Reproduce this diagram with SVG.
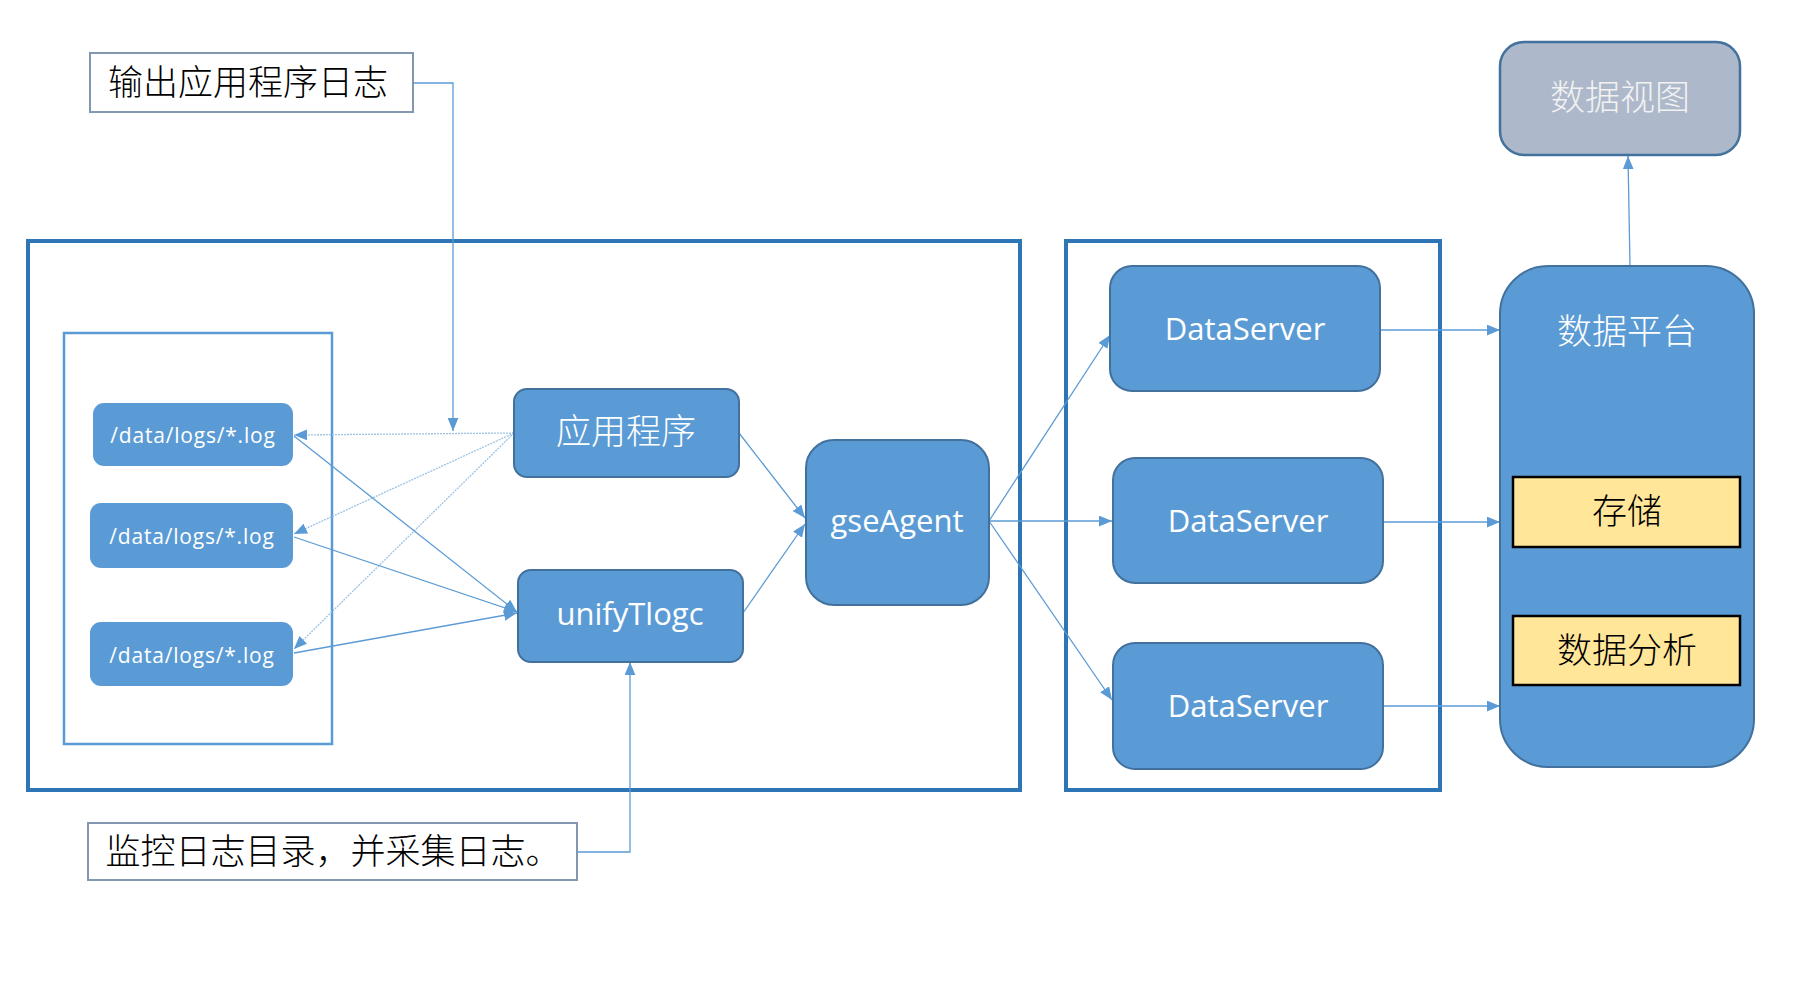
<svg xmlns="http://www.w3.org/2000/svg" width="1813" height="984" viewBox="0 0 1813 984">
<style>
.frame{fill:none;stroke:#2E75B6;stroke-width:4}
.inner{fill:none;stroke:#5B9BD5;stroke-width:2.5}
.node{fill:#5B9BD5;stroke:#41719C;stroke-width:2}
.log{fill:#5B9BD5}
.yellow{fill:#FFE699;stroke:#000;stroke-width:2.5}
.view{fill:#ADB9CA;stroke:#41719C;stroke-width:2.5}
.label{fill:#fff;stroke:#8497B0;stroke-width:2}
.en{font-family:"Open Sans","Liberation Sans",sans-serif;fill:#fff;text-anchor:middle}
.cn{font-family:"Noto Sans CJK SC","Noto Sans",sans-serif;font-size:35px;font-weight:300;text-anchor:middle}
.w{fill:#fff}
.k{fill:#000}
.c{fill:none;stroke:#5B9BD5;stroke-width:1.3}
.d{fill:none;stroke:#9DC3E6;stroke-width:1.3;stroke-dasharray:2 1}
</style>
<defs>
<marker id="ah" viewBox="0 0 12 10" refX="12" refY="5" markerWidth="13" markerHeight="11" markerUnits="userSpaceOnUse" orient="auto">
<path d="M0,0 L12,5 L0,10 z" fill="#5B9BD5"/>
</marker>
</defs>
<rect width="1813" height="984" fill="#fff"/>

<g id="frames">
<rect class="frame" x="28" y="241" width="992" height="549"/>
<rect class="frame" x="1066" y="241" width="374" height="549"/>
<rect class="inner" x="64" y="333" width="268" height="411"/>
</g>

<g id="connectors">
<polyline class="c" points="413,83 453,83 453,431" marker-end="url(#ah)"/>
<line class="d" x1="514" y1="433" x2="294" y2="435" marker-end="url(#ah)"/>
<line class="d" x1="514" y1="433" x2="294" y2="534" marker-end="url(#ah)"/>
<line class="d" x1="514" y1="433" x2="294" y2="649" marker-end="url(#ah)"/>
<line class="c" x1="294" y1="436" x2="517" y2="612" marker-end="url(#ah)"/>
<line class="c" x1="294" y1="537" x2="517" y2="612" marker-end="url(#ah)"/>
<line class="c" x1="294" y1="653" x2="517" y2="613" marker-end="url(#ah)"/>
<line class="c" x1="739" y1="433" x2="805" y2="518" marker-end="url(#ah)"/>
<line class="c" x1="743" y1="613" x2="805" y2="524" marker-end="url(#ah)"/>
<polyline class="c" points="577,852 630,852 630,662" marker-end="url(#ah)"/>
<line class="c" x1="989" y1="521" x2="1110" y2="335" marker-end="url(#ah)"/>
<line class="c" x1="989" y1="521" x2="1112" y2="521" marker-end="url(#ah)"/>
<line class="c" x1="989" y1="521" x2="1112" y2="700" marker-end="url(#ah)"/>
<line class="c" x1="1380" y1="330" x2="1500" y2="330" marker-end="url(#ah)"/>
<line class="c" x1="1383" y1="522" x2="1500" y2="522" marker-end="url(#ah)"/>
<line class="c" x1="1383" y1="706" x2="1500" y2="706" marker-end="url(#ah)"/>
<line class="c" x1="1630" y1="266" x2="1628" y2="156" marker-end="url(#ah)"/>
</g>

<g id="label-output">
<rect class="label" x="90" y="53" width="323" height="59"/>
<text class="cn k" x="248" y="95">输出应用程序日志</text>
</g>

<g id="label-monitor">
<rect class="label" x="88" y="823" width="489" height="57"/>
<text class="cn k" x="333" y="864">监控日志目录，并采集日志。</text>
</g>

<g id="log1">
<rect class="log" x="93" y="403" width="200" height="63" rx="11"/>
<text class="en" x="193" y="443" font-size="21" letter-spacing="0.8">/data/logs/*.log</text>
</g>
<g id="log2">
<rect class="log" x="90" y="503" width="203" height="65" rx="11"/>
<text class="en" x="192" y="544" font-size="21" letter-spacing="0.8">/data/logs/*.log</text>
</g>
<g id="log3">
<rect class="log" x="90" y="622" width="203" height="64" rx="11"/>
<text class="en" x="192" y="663" font-size="21" letter-spacing="0.8">/data/logs/*.log</text>
</g>

<g id="app">
<rect class="node" x="514" y="389" width="225" height="88" rx="13"/>
<text class="cn w" x="626" y="444">应用程序</text>
</g>
<g id="unifyTlogc">
<rect class="node" x="518" y="570" width="225" height="92" rx="13"/>
<text class="en" x="630" y="625" font-size="31">unifyTlogc</text>
</g>
<g id="gseAgent">
<rect class="node" x="806" y="440" width="183" height="165" rx="28"/>
<text class="en" x="897" y="532" font-size="31">gseAgent</text>
</g>

<g id="ds1">
<rect class="node" x="1110" y="266" width="270" height="125" rx="22"/>
<text class="en" x="1245" y="340" font-size="31">DataServer</text>
</g>
<g id="ds2">
<rect class="node" x="1113" y="458" width="270" height="125" rx="22"/>
<text class="en" x="1248" y="532" font-size="31">DataServer</text>
</g>
<g id="ds3">
<rect class="node" x="1113" y="643" width="270" height="126" rx="22"/>
<text class="en" x="1248" y="717" font-size="31">DataServer</text>
</g>

<g id="platform">
<rect class="node" x="1500" y="266" width="254" height="501" rx="48"/>
<text class="cn w" x="1627" y="344">数据平台</text>
</g>
<g id="storage">
<rect class="yellow" x="1513" y="477" width="227" height="70"/>
<text class="cn k" x="1627" y="524">存储</text>
</g>
<g id="analysis">
<rect class="yellow" x="1513" y="616" width="227" height="69"/>
<text class="cn k" x="1627" y="663">数据分析</text>
</g>
<g id="view">
<rect class="view" x="1500" y="42" width="240" height="113" rx="24"/>
<text class="cn" x="1620" y="110" fill="#F2F2F2">数据视图</text>
</g>
</svg>
